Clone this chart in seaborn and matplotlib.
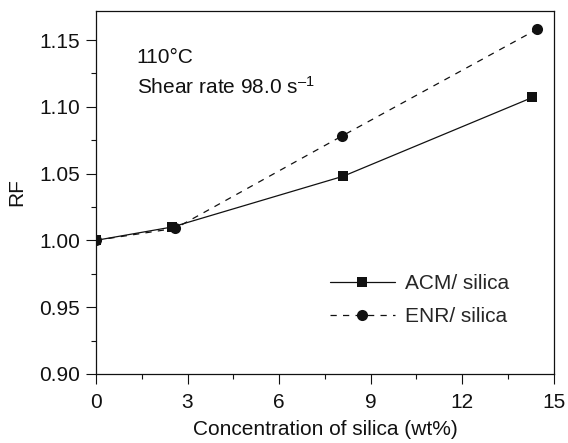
import matplotlib
matplotlib.use("Agg")
import matplotlib.pyplot as plt
import seaborn as sns
import pandas as pd
from matplotlib.ticker import MultipleLocator

# Data
acm_x = [0.0, 2.5, 8.1, 14.3]
acm_y = [1.000, 1.010, 1.048, 1.107]
enr_x = [0.0, 2.6, 8.05, 14.45]
enr_y = [1.000, 1.009, 1.078, 1.158]
series_labels = ["ACM/ silica", "ENR/ silica"]
x_ticks = [0, 3, 6, 9, 12, 15]
y_ticks = [0.90, 0.95, 1.00, 1.05, 1.10, 1.15]

sns.set_theme(style="ticks")
plt.rcParams["font.family"] = ["Liberation Sans", "DejaVu Sans"]
plt.rcParams["mathtext.fontset"] = "custom"
plt.rcParams["mathtext.rm"] = "Liberation Sans"
plt.rcParams["mathtext.it"] = "Liberation Sans"
plt.rcParams["mathtext.default"] = "regular"

FS = 15
fig = plt.figure(figsize=(5.68, 4.43), dpi=100)
ax = fig.add_axes([0.169, 0.156, 0.806, 0.820])

df_acm = pd.DataFrame({"x": acm_x, "y": acm_y})
df_enr = pd.DataFrame({"x": enr_x, "y": enr_y})

sns.lineplot(data=df_acm, x="x", y="y", ax=ax, color="#111111", marker="s",
             markersize=7.5, markeredgewidth=0, linewidth=0.9, linestyle="-",
             label=series_labels[0])
sns.lineplot(data=df_enr, x="x", y="y", ax=ax, color="#111111", marker="o",
             markersize=8, markeredgewidth=0, linewidth=0.9, dashes=False,
             label=series_labels[1])
ax.lines[1].set_linestyle((0, (5, 5)))
for ln in ax.lines:
    ln.set_clip_on(True)

ax.set_xlim(0, 15)
ax.set_ylim(0.90, 1.172)
ax.set_xticks(x_ticks)
ax.set_yticks(y_ticks)
ax.set_yticklabels([f"{v:.2f}" for v in y_ticks])
ax.xaxis.set_minor_locator(MultipleLocator(1.5))
ax.yaxis.set_minor_locator(MultipleLocator(0.025))
ax.tick_params(which="major", direction="out", length=7, width=0.8,
               labelsize=FS, colors="#111111")
ax.tick_params(which="minor", direction="out", length=3.6, width=0.8,
               colors="#111111")
ax.tick_params(axis="x", which="major", pad=6.5)
ax.tick_params(axis="y", which="major", pad=4.5)
for s in ax.spines.values():
    s.set_linewidth(0.9)
    s.set_color("#111111")

ax.set_xlabel("Concentration of silica (wt%)", fontsize=FS, color="#111111", labelpad=6)
ax.set_ylabel("RF", fontsize=FS, color="#111111", labelpad=9)

ax.text(0.089, 0.856, "110°C", transform=ax.transAxes, fontsize=FS,
        va="baseline", ha="left", color="#111111")
ax.text(0.089, 0.770, "Shear rate 98.0 s$^{\u2013 1}$", transform=ax.transAxes,
        fontsize=FS, va="baseline", ha="left", color="#111111")

leg = ax.legend(loc="center left", bbox_to_anchor=(0.511, 0.2036), frameon=False,
                fontsize=FS, handlelength=3.1, handletextpad=0.5,
                labelspacing=0.66, borderpad=0, borderaxespad=0, numpoints=1)

fig.savefig("out.png", dpi=100)
